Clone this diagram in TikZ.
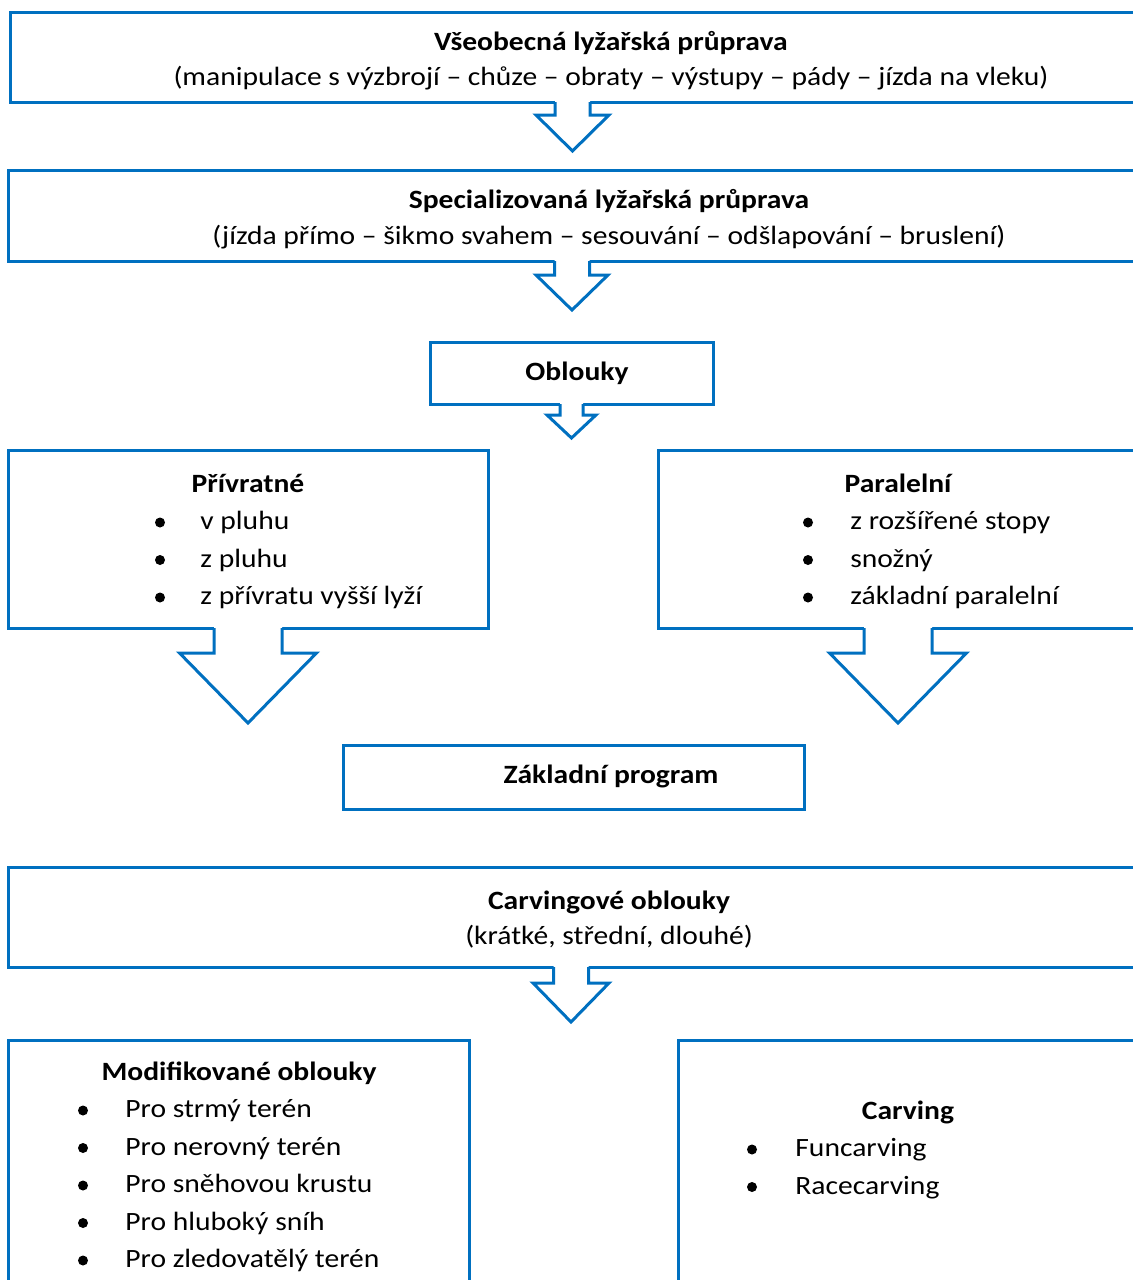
\documentclass[tikz,border=0pt]{standalone}
\usepackage{fontspec}
\setmainfont{Carlito}[FakeStretch=1.12]
\definecolor{modra}{HTML}{0070C0}
\newcommand{\velke}{\fontsize{13.2}{16}\selectfont}
\tikzset{
  box/.style={draw=modra,line width=1.5pt,fill=white,inner sep=0pt},
  titul/.style={anchor=base,font=\velke\bfseries,inner sep=0pt},
  radek/.style={anchor=base,font=\velke,inner sep=0pt},
  polozka/.style={anchor=base west,font=\velke,inner sep=0pt},
  tecka/.style={circle,fill=black,inner sep=0pt,minimum size=5pt},
  sipka/.style={draw=modra,line width=1.5pt,line join=miter}
}
% block arrow: x, top, shoulder, tip, stem half, head half
\newcommand{\blokarrow}[6]{%
  \fill[white] (#1-#5,#2-3) -- (#1-#5,#3) -- (#1-#6,#3) -- (#1,#4) -- (#1+#6,#3) -- (#1+#5,#3) -- (#1+#5,#2-3) -- cycle;
  \draw[sipka] (#1-#5,#2) -- (#1-#5,#3) -- (#1-#6,#3) -- (#1,#4) -- (#1+#6,#3) -- (#1+#5,#3) -- (#1+#5,#2);
}
\begin{document}
\begin{tikzpicture}[x=0.5pt,y=-0.5pt]
  \useasboundingbox (0,0) rectangle (1133,1280);
  \clip (0,0) rectangle (1133,1280);

  % boxes
  \node[box,minimum width=601pt,minimum height=45pt] (vseob) at (611,57) {};
  \node[box,minimum width=601pt,minimum height=45.5pt] (spec) at (609,215.5) {};
  \node[box,minimum width=141.5pt,minimum height=31pt] (obl) at (571.5,373) {};
  \node[box,minimum width=240pt,minimum height=89pt] (priv) at (248,539) {};
  \node[box,minimum width=240pt,minimum height=89pt] (par) at (898,539) {};
  \node[box,minimum width=230.5pt,minimum height=32pt] (zakl) at (573.5,777) {};
  \node[box,minimum width=601pt,minimum height=50pt] (carvo) at (609,917) {};
  \node[box,minimum width=230.5pt,minimum height=140pt] (modif) at (238.5,1180) {};
  \node[box,minimum width=230pt,minimum height=140pt] (carv) at (908,1180.5) {};

  % arrows
  \blokarrow{572.5}{102}{115}{151}{17.5}{36.5}
  \blokarrow{572}{261}{275}{310}{17.5}{36}
  \blokarrow{571.5}{404}{415}{438}{11.5}{24.5}
  \blokarrow{248}{628}{653}{723}{34}{68.5}
  \blokarrow{898}{628}{653}{723}{34}{68.5}
  \blokarrow{571}{967}{983}{1022}{17.5}{38}

  % texts
  \node[titul] (vseobA) at (611,50) {Všeobecná lyžařská průprava};
  \node[radek] (vseobB) at (611,85) {(manipulace s výzbrojí – chůze – obraty – výstupy – pády – jízda na vleku)};
  \node[titul] (specA) at (609,208) {Specializovaná lyžařská průprava};
  \node[radek] (specB) at (609,244) {(jízda přímo – šikmo svahem – sesouvání – odšlapování – bruslení)};
  \node[titul] (oblA) at (577,380) {Oblouky};

  \node[titul] (privA) at (248,492) {Přívratné};
  \foreach \t [count=\i] in {v pluhu, z pluhu, z přívratu vyšší lyží} {
    \node[tecka] (privD\i) at (160,{492+37.5*\i-7}) {};
    \node[polozka] (privT\i) at (200,{492+37.5*\i}) {\t};
  }

  \node[titul] (parA) at (898,492) {Paralelní};
  \foreach \t [count=\i] in {z rozšířené stopy, snožný, základní paralelní} {
    \node[tecka] (parD\i) at (808,{492+37.5*\i-7}) {};
    \node[polozka] (parT\i) at (850,{492+37.5*\i}) {\t};
  }

  \node[titul] (zaklA) at (611,783) {Základní program};

  \node[titul] (carvoA) at (609,909) {Carvingové oblouky};
  \node[radek] (carvoB) at (609,944) {(krátké, střední, dlouhé)};

  \node[titul] (modifA) at (239,1080) {Modifikované oblouky};
  \foreach \t [count=\i] in {Pro strmý terén, Pro nerovný terén, Pro sněhovou krustu, Pro hluboký sníh, Pro zledovatělý terén} {
    \node[tecka] (modifD\i) at (83,{1080+37.5*\i-7}) {};
    \node[polozka] (modifT\i) at (125,{1080+37.5*\i}) {\t};
  }

  \node[titul] (carvA) at (908,1119) {Carving};
  \foreach \t [count=\i] in {Funcarving, Racecarving} {
    \node[tecka] (carvD\i) at (752,{1119+37.5*\i-7}) {};
    \node[polozka] (carvT\i) at (795,{1119+37.5*\i}) {\t};
  }
\end{tikzpicture}
\end{document}
